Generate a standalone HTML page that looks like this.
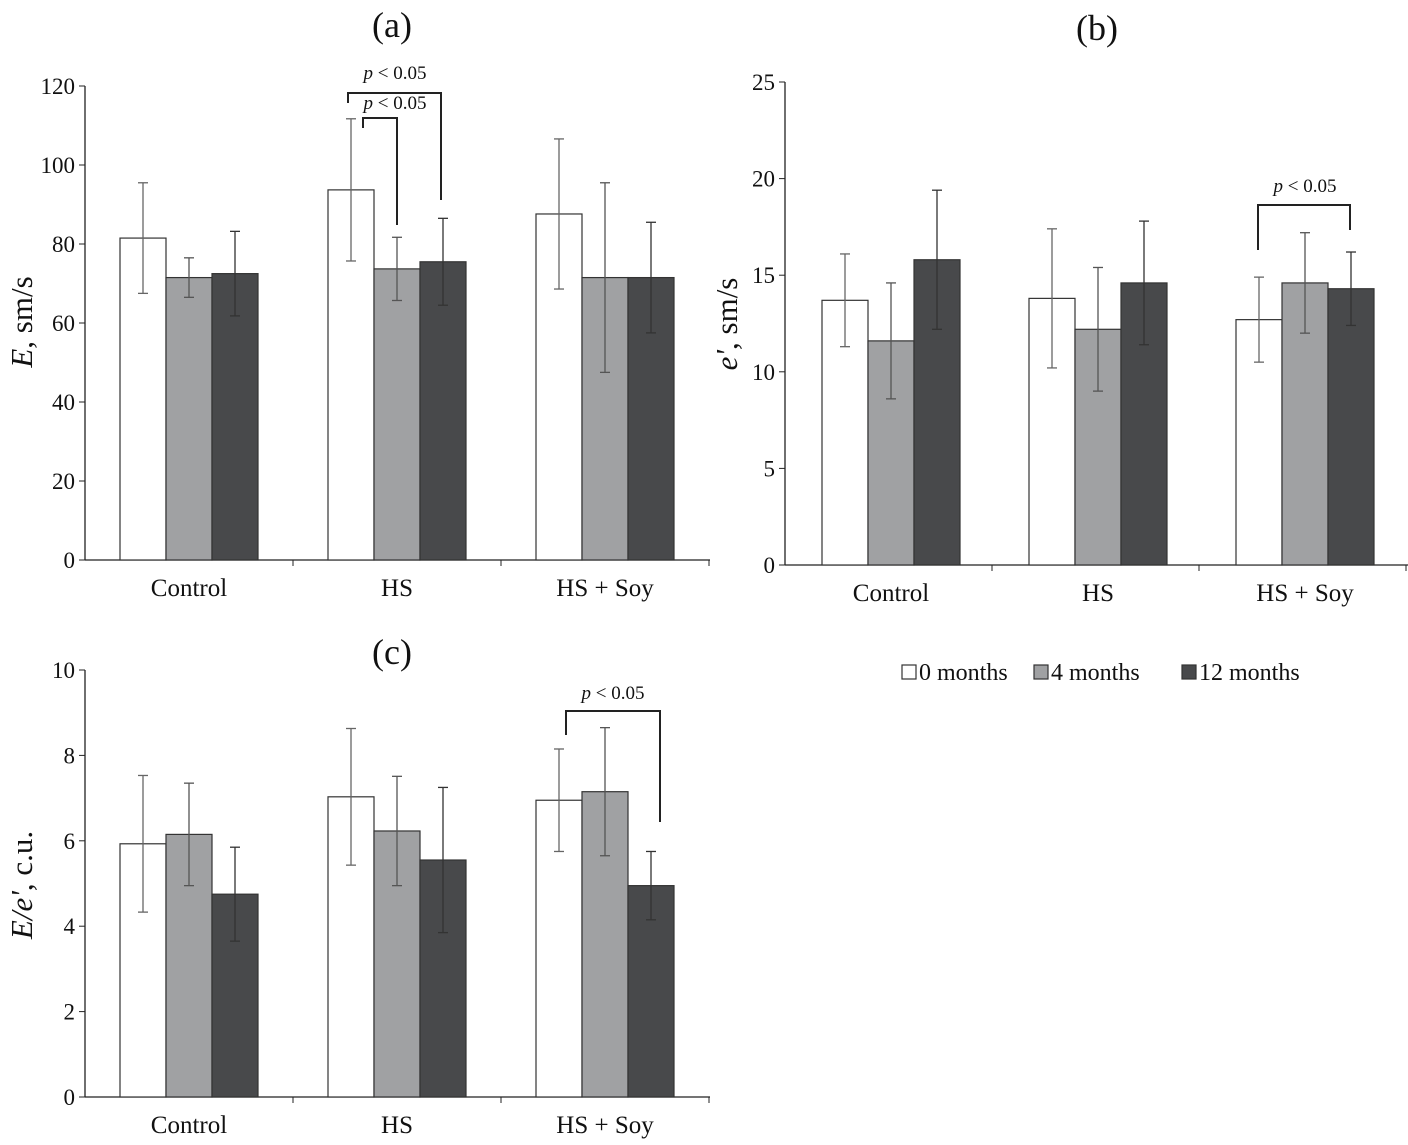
<!DOCTYPE html>
<html><head><meta charset="utf-8"><style>
body{margin:0;background:#fff;width:1408px;height:1140px;overflow:hidden}
svg text{font-family:"Liberation Serif",serif;fill:#111}
</style></head><body>
<svg id="s" width="1408" height="1140"></svg>
<script>
const categories=["Control","HS","HS + Soy"];
const seriesNames=["0 months","4 months","12 months"];
const aVals=[[81.5,71.5,72.5],[93.7,73.7,75.5],[87.6,71.5,71.5]];
const aErr=[[14,5,10.7],[18,8,11],[19,24,14]];
const bVals=[[13.7,11.6,15.8],[13.8,12.2,14.6],[12.7,14.6,14.3]];
const bErr=[[2.4,3.0,3.6],[3.6,3.2,3.2],[2.2,2.6,1.9]];
const cVals=[[5.93,6.15,4.75],[7.03,6.23,5.55],[6.95,7.15,4.95]];
const cErr=[[1.6,1.2,1.1],[1.6,1.28,1.7],[1.2,1.5,0.8]];
const aTicks=[0,20,40,60,80,100,120];
const bTicks=[0,5,10,15,20,25];
const cTicks=[0,2,4,6,8,10];
const fills=["#ffffff","#a0a1a3","#48494b"];
const errC=["#666","#555","#333"];
const NS="http://www.w3.org/2000/svg";
const svg=document.getElementById("s");
function el(t,a,txt){const e=document.createElementNS(NS,t);for(const k in a)e.setAttribute(k,a[k]);if(txt!==undefined)e.textContent=txt;svg.appendChild(e);return e;}
function panel(id,P){
 const y=v=>P.y0-(v-P.min)/(P.max-P.min)*(P.y0-P.yTop);
 const x=(ci,si)=>P.x0+P.off+ci*P.gap+si*P.bw;
 let e=el("line",{x1:P.x0,y1:P.y0,x2:P.x0,y2:P.yTop,stroke:"#222","stroke-width":1.3});
 
 e=el("line",{x1:P.x0,y1:P.y0,x2:P.xEnd,y2:P.y0,stroke:"#222","stroke-width":1.3});
 
 P.ticks.forEach(t=>{
  el("line",{x1:P.x0-6,x2:P.x0,y1:y(t),y2:y(t),stroke:"#222"});
  e=el("text",{x:P.x0-10,y:y(t)+8,"text-anchor":"end","font-size":23},t);
  
 });
 [1,2,3].forEach(i=>el("line",{x1:P.x0+i*P.gap,x2:P.x0+i*P.gap,y1:P.y0,y2:P.y0+6,stroke:"#222"}));
 categories.forEach((c,ci)=>{
  e=el("text",{x:x(ci,0)+1.5*P.bw,y:P.y0+36,"text-anchor":"middle","font-size":25},c);
  
  for(let si=0;si<3;si++){
   const v=P.vals[ci][si],er=P.err[ci][si],bx=x(ci,si);
   e=el("rect",{x:bx,y:y(v),width:P.bw,height:P.y0-y(v),fill:fills[si],stroke:"#333","stroke-width":1.2});
   
   const cx=bx+P.bw/2;
   el("line",{x1:cx,x2:cx,y1:y(v+er),y2:y(v-er),stroke:errC[si],"stroke-width":1.3});
   el("line",{x1:cx-5,x2:cx+5,y1:y(v+er),y2:y(v+er),stroke:errC[si],"stroke-width":1.3});
   el("line",{x1:cx-5,x2:cx+5,y1:y(v-er),y2:y(v-er),stroke:errC[si],"stroke-width":1.3});
  }
 });
}
panel("a",{x0:85,xEnd:710,y0:560,yTop:86,min:0,max:120,off:35,gap:208,bw:46,vals:aVals,err:aErr,ticks:aTicks});
panel("b",{x0:785,xEnd:1410,y0:565,yTop:82,min:0,max:25,off:37,gap:207,bw:46,vals:bVals,err:bErr,ticks:bTicks});
panel("c",{x0:85,xEnd:710,y0:1097,yTop:670,min:0,max:10,off:35,gap:208,bw:46,vals:cVals,err:cErr,ticks:cTicks});
function t(x,y,s,sz,name,extra){const e=el("text",Object.assign({x:x,y:y,"text-anchor":"middle","font-size":sz},extra||{}),s);return e;}
t(392,37,"(a)",36,"title-a");t(1097,40,"(b)",36,"title-b");t(392,664,"(c)",36,"title-c");
function ytitle(x,y,it,rest,name){const e=el("text",{transform:`translate(${x},${y}) rotate(-90)`,"text-anchor":"middle","font-size":31});const a=document.createElementNS(NS,"tspan");a.setAttribute("font-style","italic");a.textContent=it;e.appendChild(a);e.appendChild(document.createTextNode(rest));}
ytitle(32,322,"E",", sm/s","y-axis-title-a");ytitle(737,324,"e'",", sm/s","y-axis-title-b");ytitle(32,885,"E/e'",", c.u.","y-axis-title-c");
function br(pts,name){const e=el("polyline",{points:pts,fill:"none",stroke:"#222","stroke-width":2});}
br("348,103 348,93 441,93 441,200","sig-bracket-a-outer");
br("363,128 363,118 397,118 397,225","sig-bracket-a-inner");
br("1258,250 1258,205 1350,205 1350,230","sig-bracket-b");
br("566,735 566,711 660,711 660,822","sig-bracket-c");
function ptext(x,y,name){const e=el("text",{x:x,y:y,"text-anchor":"middle","font-size":19});const a=document.createElementNS(NS,"tspan");a.setAttribute("font-style","italic");a.textContent="p";e.appendChild(a);e.appendChild(document.createTextNode(" < 0.05"));}
ptext(395,79,"p-value-a-outer");ptext(395,109,"p-value-a-inner");ptext(1305,192,"p-value-b");ptext(613,699,"p-value-c");
const lx=[902,1034,1182];
seriesNames.forEach((n,i)=>{
 let e=el("rect",{x:lx[i],y:665,width:14,height:14,fill:fills[i],stroke:"#333","stroke-width":1.2});
 
 e=el("text",{x:lx[i]+17,y:680,"font-size":24},n);
 
});
</script></body></html>
